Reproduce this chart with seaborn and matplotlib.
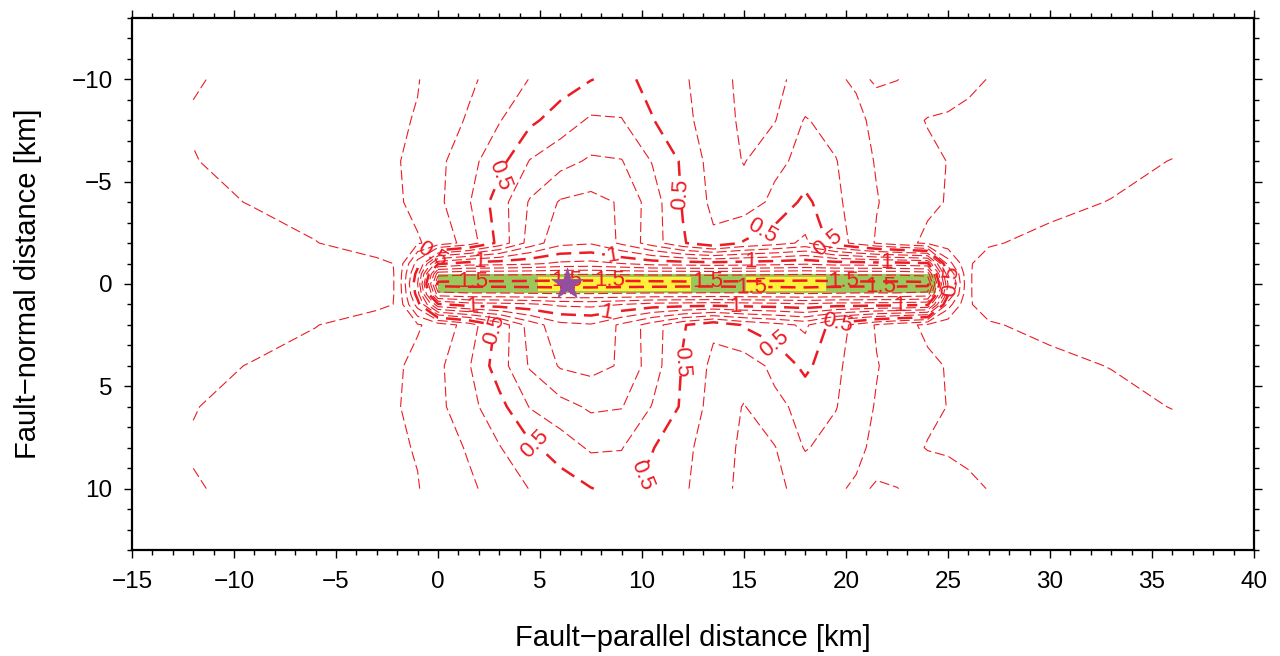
import numpy as np
import matplotlib
matplotlib.use("Agg")
import matplotlib.pyplot as plt
from matplotlib.ticker import MultipleLocator
import seaborn as sns

# Grid nodes (km)
x_km = [-12, -9, -6, -3, -2, -1, 0, 1.5, 3, 4.5, 6, 7.5, 9, 10.5, 12,
        13.5, 15, 16.5, 18, 19.5, 20.5, 21.5, 22.5, 24, 25, 26, 27, 30, 33, 36]
y_upper_km = [-10, -8, -6, -4, -2, -1, -0.5, 0]

# Gridded amplitude, one list per fault-normal row (fault side y <= 0)
row_m10 = [0.094, 0.122, 0.150, 0.178, 0.188, 0.197, 0.226, 0.281, 0.342, 0.403,
           0.450, 0.497, 0.530, 0.467, 0.417, 0.333, 0.280, 0.287, 0.320, 0.310,
           0.290, 0.305, 0.302, 0.265, 0.238, 0.213, 0.198, 0.185, 0.170, 0.150]
row_m8 = [0.106, 0.132, 0.158, 0.184, 0.192, 0.204, 0.246, 0.311, 0.394, 0.478,
          0.546, 0.615, 0.605, 0.505, 0.433, 0.340, 0.285, 0.295, 0.408, 0.358,
          0.319, 0.280, 0.240, 0.195, 0.190, 0.185, 0.180, 0.165, 0.148, 0.130]
row_m6 = [0.097, 0.126, 0.155, 0.185, 0.195, 0.225, 0.275, 0.366, 0.465, 0.605,
          0.665, 0.715, 0.705, 0.595, 0.485, 0.357, 0.295, 0.375, 0.430, 0.405,
          0.340, 0.293, 0.266, 0.220, 0.198, 0.188, 0.180, 0.150, 0.120, 0.098]
row_m4 = [0.082, 0.104, 0.140, 0.176, 0.188, 0.226, 0.277, 0.390, 0.553, 0.710,
          0.810, 0.830, 0.790, 0.650, 0.492, 0.375, 0.345, 0.425, 0.525, 0.420,
          0.360, 0.305, 0.267, 0.217, 0.195, 0.180, 0.168, 0.115, 0.098, 0.075]
row_m2 = [0.060, 0.075, 0.097, 0.149, 0.170, 0.190, 0.2375, 0.340, 0.530, 0.740,
          0.870, 0.890, 0.780, 0.650, 0.510, 0.420, 0.510, 0.560, 0.620, 0.450,
          0.370, 0.290, 0.240, 0.180, 0.140, 0.115, 0.105, 0.085, 0.070, 0.060]
row_m1 = [0.040, 0.050, 0.060, 0.080, 0.105, 0.450, 0.980, 1.050, 1.060, 1.080,
          1.120, 1.130, 1.100, 1.060, 1.050, 1.040, 1.050, 1.060, 1.080, 1.050,
          1.050, 1.040, 1.040, 1.020, 0.350, 0.105, 0.080, 0.070, 0.060, 0.050]
row_m05 = [0.035, 0.045, 0.055, 0.075, 0.105, 0.550, 1.360, 1.380, 1.380, 1.385,
           1.390, 1.390, 1.385, 1.380, 1.380, 1.375, 1.380, 1.385, 1.390, 1.385,
           1.380, 1.380, 1.380, 1.360, 0.520, 0.105, 0.075, 0.065, 0.055, 0.045]
row_0 = [0.035, 0.045, 0.055, 0.075, 0.105, 0.600, 1.540, 1.545, 1.545, 1.550,
         1.555, 1.555, 1.550, 1.545, 1.540, 1.540, 1.545, 1.550, 1.555, 1.545,
         1.540, 1.540, 1.540, 1.535, 0.600, 0.105, 0.075, 0.065, 0.055, 0.045]

thin_levels = [0.1, 0.2, 0.3, 0.4, 0.6, 0.7, 0.8, 0.9, 1.1, 1.2, 1.3, 1.4]
bold_levels = [0.5, 1.0, 1.5]
level_text = {0.5: "0.5", 1.0: "1", 1.5: "1.5"}

# Fault plane, asperities and hypocentre
fault_x = [0.0, 24.4]
fault_y = [-0.48, 0.45]
asperity_x = [[4.9, 12.4], [15.1, 19.0]]
asperity_y = [-0.33, 0.35]
hypo_x = [6.3]
hypo_y = [0.0]

# Symmetric field: mirror the fault-side rows across the trace
upper = np.array([row_m10, row_m8, row_m6, row_m4, row_m2, row_m1, row_m05, row_0])
Z = np.vstack([upper, upper[-2::-1]])
y_km = y_upper_km + [-v for v in y_upper_km[-2::-1]]
X, Y = np.meshgrid(x_km, y_km)

sns.set_theme(style="ticks")
plt.rcParams["font.family"] = ["Liberation Sans", "DejaVu Sans"]
plt.rcParams["axes.unicode_minus"] = True
for key in ("text.color", "axes.labelcolor", "xtick.color", "ytick.color",
            "axes.edgecolor"):
    plt.rcParams[key] = "black"

RED = "#ec1c24"
GREEN = "#9cc75c"
YELLOW = "#fff03a"
PURPLE = "#934ea0"

fig = plt.figure(figsize=(12.8, 6.56), dpi=100)
ax = fig.add_axes([132 / 1280, 106 / 656, 1122 / 1280, 532 / 656])

ax.fill_between(fault_x, fault_y[0], fault_y[1], color=GREEN, lw=0, zorder=1)
for pair in asperity_x:
    ax.fill_between(pair, asperity_y[0], asperity_y[1], color=YELLOW, lw=0, zorder=1.5)

cs_thin = ax.contour(X, Y, Z, levels=thin_levels, colors=RED, linewidths=0.8, zorder=2)
cs_thin.set_linestyle((0, (9, 3.6)))
cs_bold = ax.contour(X, Y, Z, levels=bold_levels, colors=RED, linewidths=1.8, zorder=3)
cs_bold.set_linestyle((0, (6, 3.2)))

label_spots = [
    (-0.15, -1.3), (2.05, -1.0), (3.0, -5.3), (8.6, -1.55), (12.0, -4.4),
    (15.9, -2.6), (15.3, -1.1), (19.1, -1.9), (22.0, -0.9), (25.3, -0.15),
    (1.7, -0.05), (6.3, -0.05), (8.4, -0.05), (13.2, -0.05), (15.4, 0.05),
    (19.9, -0.05), (21.7, 0.05),
    (1.7, 0.95), (2.5, 2.2), (8.3, 1.55), (4.7, 7.9), (10.1, 9.4),
    (12.1, 3.8), (16.4, 3.0), (19.6, 1.9), (14.6, 1.0), (22.6, 0.9),
]
ax.clabel(cs_bold, fmt=level_text, manual=label_spots, inline=True,
          inline_spacing=3, fontsize=16, colors=RED)

sns.scatterplot(x=hypo_x, y=hypo_y, marker="*", s=560, color=PURPLE,
                edgecolor=PURPLE, linewidth=0.5, zorder=6, ax=ax, legend=False)

ax.set_xlim(-15, 40)
ax.set_ylim(13, -13)
ax.xaxis.set_major_locator(MultipleLocator(5))
ax.xaxis.set_minor_locator(MultipleLocator(1))
ax.yaxis.set_minor_locator(MultipleLocator(1))
ax.set_yticks([-10, -5, 0, 5, 10])

for side in ax.spines.values():
    side.set_linewidth(1.6)
    side.set_color("black")
    side.set_visible(True)

ax.tick_params(which="both", direction="out", top=True, right=True,
               labeltop=False, labelright=False, color="black", width=1.0,
               labelcolor="black")
ax.tick_params(which="major", length=6, labelsize=17.5)
ax.tick_params(which="minor", length=3.5)
ax.tick_params(axis="x", which="major", pad=9)
ax.tick_params(axis="y", which="major", pad=8)

ax.set_xlabel("Fault\u2212parallel distance [km]", fontsize=21, color="black")
ax.set_ylabel("Fault\u2212normal distance [km]", fontsize=21, color="black")
ax.xaxis.label.set_va("center")
ax.yaxis.label.set_va("center")
ax.xaxis.set_label_coords(0.5, (550 - 638) / 532)
ax.yaxis.set_label_coords((28 - 132) / 1122, 0.5)

fig.savefig("out.png", dpi=100)
